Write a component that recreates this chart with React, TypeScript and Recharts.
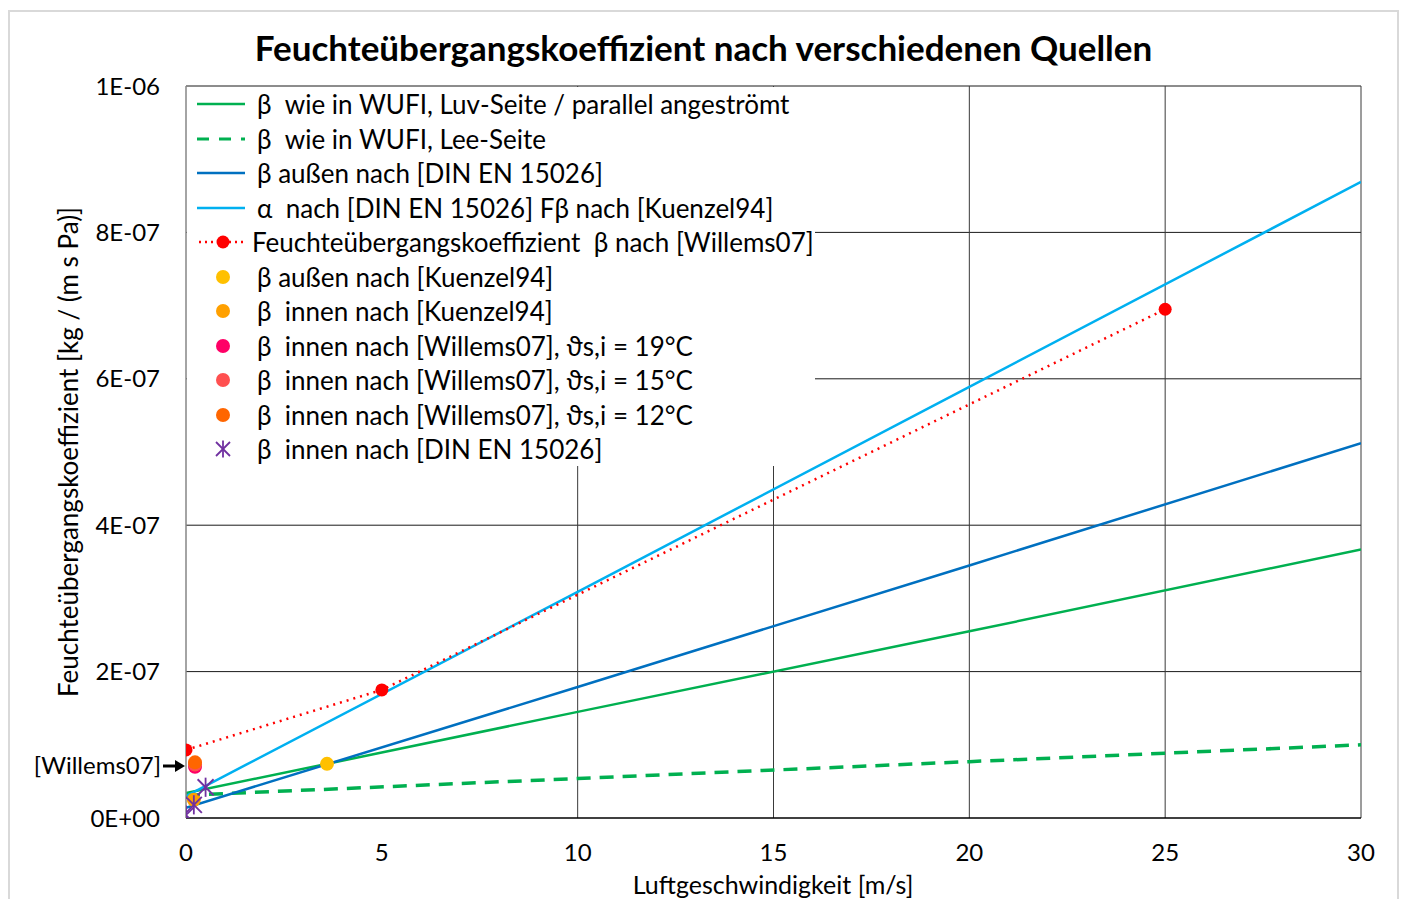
import { ComposedChart, Line, Scatter, XAxis, YAxis, ReferenceLine, Legend } from "recharts";

const FONT = "Lato, 'Open Sans', sans-serif";

const xTicks = [0, 5, 10, 15, 20, 25, 30];
const yTicks = [0, 2e-7, 4e-7, 6e-7, 8e-7, 1e-6];
const xGrid = [10, 15, 20, 25, 30];
const yGrid = [2e-7, 4e-7, 6e-7, 8e-7, 1e-6];

// v = Luftgeschwindigkeit [m/s], b = beta [kg/(m s Pa)]
const wufiLuv = [
  { v: 0, b: 3.4e-8 },
  { v: 10, b: 1.45e-7 },
  { v: 20, b: 2.55e-7 },
  { v: 30, b: 3.67e-7 },
];
const wufiLee = [
  { v: 0, b: 3.1e-8 },
  { v: 10, b: 5.4e-8 },
  { v: 20, b: 7.7e-8 },
  { v: 30, b: 1.0e-7 },
];
const dinAussen = [
  { v: 0, b: 1.4e-8 },
  { v: 10, b: 1.79e-7 },
  { v: 20, b: 3.45e-7 },
  { v: 30, b: 5.12e-7 },
];
const alphaKuenzel = [
  { v: 0, b: 3.0e-8 },
  { v: 10, b: 3.09e-7 },
  { v: 20, b: 5.89e-7 },
  { v: 30, b: 8.69e-7 },
];
const willems = [
  { v: 0, b: 9.3e-8 },
  { v: 5, b: 1.75e-7 },
  { v: 25, b: 6.95e-7 },
];
const kuenzelAussen = [{ v: 3.6, b: 7.4e-8 }];
const kuenzelInnen = [{ v: 0.2, b: 2.5e-8 }];
const willems19 = [{ v: 0.23, b: 7.0e-8 }];
const willems15 = [{ v: 0.23, b: 7.3e-8 }];
const willems12 = [{ v: 0.23, b: 7.6e-8 }];
const dinInnen = [
  { v: 0, b: 4e-9 },
  { v: 0.2, b: 1.8e-8 },
  { v: 0.5, b: 4.2e-8 },
];

const legendItems = [
  { name: "β  wie in WUFI, Luv-Seite / parallel angeströmt", kind: "line", color: "#00b050" },
  { name: "β  wie in WUFI, Lee-Seite", kind: "dash", color: "#00b050" },
  { name: "β außen nach [DIN EN 15026]", kind: "line", color: "#0070c0" },
  { name: "α  nach [DIN EN 15026] Fβ nach [Kuenzel94]", kind: "line", color: "#00b0f0" },
  { name: "Feuchteübergangskoeffizient  β nach [Willems07]", kind: "dotline", color: "#ff0000" },
  { name: "β außen nach [Kuenzel94]", kind: "dot", color: "#ffc000" },
  { name: "β  innen nach [Kuenzel94]", kind: "dot", color: "#ffa000" },
  { name: "β  innen nach [Willems07], ϑs,i = 19°C", kind: "dot", color: "#ff0066" },
  { name: "β  innen nach [Willems07], ϑs,i = 15°C", kind: "dot", color: "#ff5050" },
  { name: "β  innen nach [Willems07], ϑs,i = 12°C", kind: "dot", color: "#ff6600" },
  { name: "β  innen nach [DIN EN 15026]", kind: "star", color: "#7030a0" },
];

const fmtExp = (v: number) => {
  const [m, e] = v.toExponential(0).split("e");
  const sign = e.startsWith("-") ? "-" : "+";
  const digits = e.replace(/[+-]/, "").padStart(2, "0");
  return `${m}E${sign}${digits}`;
};

const dotShape = (color: string, r: number) => (p: any) => (
  <circle cx={p.cx} cy={p.cy} r={r} fill={color} stroke="none" />
);

const Star = ({ cx, cy, color, s }: { cx: number; cy: number; color: string; s: number }) => (
  <g stroke={color} strokeWidth={1.8}>
    <line x1={cx - s} y1={cy - s} x2={cx + s} y2={cy + s} />
    <line x1={cx - s} y1={cy + s} x2={cx + s} y2={cy - s} />
    <line x1={cx} y1={cy - s * 1.2} x2={cx} y2={cy + s * 1.2} />
  </g>
);

const LegendIcon = ({ kind, color }: { kind: string; color: string }) => (
  <svg width={60} height={20} style={{ flex: "none" }}>
    {kind === "line" && <line x1={10} y1={10} x2={58} y2={10} stroke={color} strokeWidth={2.5} />}
    {kind === "dash" && (
      <line x1={10} y1={10} x2={58} y2={10} stroke={color} strokeWidth={3} strokeDasharray="12 10" />
    )}
    {kind === "dotline" && (
      <g>
        <line x1={12} y1={10} x2={57} y2={10} stroke={color} strokeWidth={2.5} strokeDasharray="2 4" />
        <circle cx={36} cy={10} r={6.5} fill={color} />
      </g>
    )}
    {kind === "dot" && <circle cx={36} cy={10} r={7} fill={color} />}
    {kind === "star" && <Star cx={36} cy={10} color={color} s={7} />}
  </svg>
);

const LegendBox = () => (
  <div
    style={{
      background: "#fff",
      width: 628,
      height: 379,
      boxSizing: "border-box",
      paddingTop: 0,
      fontFamily: FONT,
      fontSize: 26,
      color: "#000",
    }}
  >
    {legendItems.map((it) => (
      <div key={it.name} style={{ display: "flex", alignItems: "center", height: 34.5, whiteSpace: "pre" }}>
        <LegendIcon kind={it.kind} color={it.color} />
        <span style={{ marginLeft: it.kind === "dotline" ? 5 : 10 }}>{it.name}</span>
      </div>
    ))}
  </div>
);

export default function App() {
  return (
    <div style={{ position: "absolute", left: 0, top: 0, width: 1401, height: 899, background: "#fff", overflow: "hidden", fontFamily: FONT }}>
      <div style={{ position: "absolute", left: 8, top: 10, width: 1387, height: 900, border: "2px solid #d9d9d9" }} />
      <ComposedChart
        width={1401}
        height={899}
        margin={{ top: 86, right: 40, bottom: 31, left: 66 }}
        style={{ position: "absolute", left: 0, top: 0 }}
      >
        <XAxis
          dataKey="v"
          type="number"
          domain={[0, 30]}
          ticks={xTicks}
          allowDataOverflow
          height={50}
          axisLine={{ stroke: "#000", strokeWidth: 1.5 }}
          tickLine={false}
          tickSize={0}
          tickMargin={26}
          tick={{ fill: "#000", fontSize: 24, fontFamily: FONT }}
        />
        <YAxis
          dataKey="b"
          type="number"
          domain={[0, 1e-6]}
          ticks={yTicks}
          allowDataOverflow
          width={120}
          axisLine={{ stroke: "#868686", strokeWidth: 1.5 }}
          tickLine={false}
          tickSize={0}
          tickMargin={26}
          tickFormatter={fmtExp}
          tick={{ fill: "#000", fontSize: 24, fontFamily: FONT }}
        />
        {yGrid.map((y) => (
          <ReferenceLine key={"y" + y} y={y} stroke="#1a1a1a" strokeWidth={1} />
        ))}
        {xGrid.map((x) => (
          <ReferenceLine key={"x" + x} x={x} stroke="#3a3a3a" strokeWidth={1} />
        ))}
        <Legend
          layout="vertical"
          align="center"
          verticalAlign="middle"
          wrapperStyle={{ left: 187, top: 87, width: 628, height: 379 }}
          content={() => <LegendBox />}
        />
        <Line data={wufiLee} dataKey="b" stroke="#00b050" strokeWidth={3.5} strokeDasharray="14 9" dot={false} isAnimationActive={false} />
        <Line data={wufiLuv} dataKey="b" stroke="#00b050" strokeWidth={2.5} dot={false} isAnimationActive={false} />
        <Line data={dinAussen} dataKey="b" stroke="#0070c0" strokeWidth={2.5} dot={false} isAnimationActive={false} />
        <Line data={alphaKuenzel} dataKey="b" stroke="#00b0f0" strokeWidth={2.5} dot={false} isAnimationActive={false} />
        <Line
          data={willems}
          dataKey="b"
          stroke="#ff0000"
          strokeWidth={2.5}
          strokeDasharray="2 5"
          dot={{ r: 6.5, fill: "#ff0000", stroke: "none" }}
          isAnimationActive={false}
        />
        <Scatter data={kuenzelAussen} dataKey="b" shape={dotShape("#ffc000", 7)} isAnimationActive={false} />
        <Scatter data={willems19} dataKey="b" shape={dotShape("#ff0066", 7)} isAnimationActive={false} />
        <Scatter data={willems15} dataKey="b" shape={dotShape("#ff5050", 7)} isAnimationActive={false} />
        <Scatter data={willems12} dataKey="b" shape={dotShape("#ff6600", 7)} isAnimationActive={false} />
        <Scatter data={kuenzelInnen} dataKey="b" shape={dotShape("#ffa000", 7)} isAnimationActive={false} />
        <Scatter
          data={dinInnen}
          dataKey="b"
          shape={(p: any) => <Star cx={p.cx} cy={p.cy} color="#7030a0" s={8} />}
          isAnimationActive={false}
        />
      </ComposedChart>
      <div
        style={{
          position: "absolute",
          left: 0,
          width: 1401,
          top: 26,
          textAlign: "center",
          fontSize: 35,
          fontWeight: 700,
          color: "#000",
          paddingLeft: 3,
        }}
      >
        Feuchteübergangskoeffizient nach verschiedenen Quellen
      </div>
      <div
        style={{
          position: "absolute",
          left: 68 - 300,
          top: 452 - 16,
          width: 600,
          textAlign: "center",
          fontSize: 26,
          color: "#000",
          transform: "rotate(-90deg)",
          whiteSpace: "nowrap",
        }}
      >
        Feuchteübergangskoeffizient [kg / (m s Pa)]
      </div>
      <div
        style={{
          position: "absolute",
          left: 473,
          width: 600,
          top: 871,
          textAlign: "center",
          fontSize: 25,
          lineHeight: "26px",
          color: "#000",
        }}
      >
        Luftgeschwindigkeit [m/s]
      </div>
      <div style={{ position: "absolute", left: 0, width: 161, top: 750, textAlign: "right", fontSize: 24, color: "#000" }}>
        [Willems07]
      </div>
      <svg width={30} height={20} style={{ position: "absolute", left: 161, top: 756 }}>
        <line x1={2} y1={10} x2={16} y2={10} stroke="#000" strokeWidth={3} />
        <polygon points="14,4 24,10 14,16" fill="#000" />
      </svg>
    </div>
  );
}
